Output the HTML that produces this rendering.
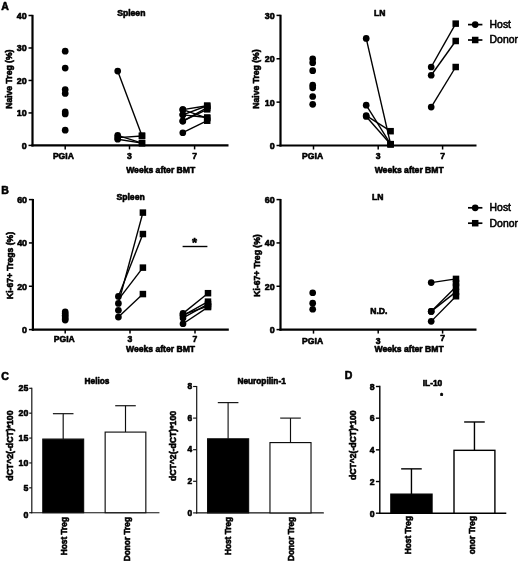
<!DOCTYPE html>
<html><head><meta charset="utf-8"><title>Figure</title>
<style>html,body{margin:0;padding:0;background:#fff;}body{width:520px;height:563px;overflow:hidden;font-family:"Liberation Sans",sans-serif;}svg{display:block;font-family:"Liberation Sans",sans-serif;}text{stroke:#000;stroke-linejoin:round;}.b{font-weight:bold;stroke-width:.6px;}.n{font-weight:normal;stroke-width:.55px;}.m{text-anchor:middle;}.e{text-anchor:end;}</style>
</head><body>
<svg width="520" height="563" viewBox="0 0 520 563" fill="#000" stroke="#000" stroke-width="0">
<defs><filter id="soft" x="0" y="0" width="520" height="563" filterUnits="userSpaceOnUse"><feGaussianBlur stdDeviation="0.35"/></filter></defs>
<rect x="0" y="0" width="520" height="563" fill="#fff" stroke="none"/>
<g filter="url(#soft)">
<g stroke="none">
<text class="b" x="1.20" y="9.60" font-size="10.5">A</text>
<text class="b" x="1.20" y="194.20" font-size="10.5">B</text>
<text class="b" x="1.20" y="380.00" font-size="10.5">C</text>
<text class="b" x="344.70" y="379.30" font-size="10.5">D</text>
</g>
<g stroke="#000">
<line x1="32.50" y1="14.85" x2="32.50" y2="146.50" stroke-width="2.2"/>
<line x1="31.40" y1="145.40" x2="228.50" y2="145.40" stroke-width="2.2"/>
<line x1="28.50" y1="145.40" x2="32.50" y2="145.40" stroke-width="1.5"/>
<line x1="28.50" y1="112.93" x2="32.50" y2="112.93" stroke-width="1.5"/>
<line x1="28.50" y1="80.45" x2="32.50" y2="80.45" stroke-width="1.5"/>
<line x1="28.50" y1="47.98" x2="32.50" y2="47.98" stroke-width="1.5"/>
<line x1="28.50" y1="15.50" x2="32.50" y2="15.50" stroke-width="1.5"/>
<line x1="65.20" y1="145.40" x2="65.20" y2="149.40" stroke-width="1.5"/>
<line x1="129.50" y1="145.40" x2="129.50" y2="149.40" stroke-width="1.5"/>
<line x1="194.60" y1="145.40" x2="194.60" y2="149.40" stroke-width="1.5"/>
</g>
<g stroke="none">
<text class="b e" x="26.60" y="148.80" font-size="8.9">0</text>
<text class="b e" x="26.60" y="116.33" font-size="8.9">10</text>
<text class="b e" x="26.60" y="83.85" font-size="8.9">20</text>
<text class="b e" x="26.60" y="51.38" font-size="8.9">30</text>
<text class="b e" x="26.60" y="18.90" font-size="8.9">40</text>
<text class="b m" x="63.40" y="158.50" font-size="8.6">PGIA</text>
<text class="b m" x="129.50" y="158.50" font-size="8.6">3</text>
<text class="b m" x="194.60" y="158.50" font-size="8.6">7</text>
<text class="b m" x="12.50" y="79.20" font-size="8.6" transform="rotate(-90 12.5 79.2)">Naive Treg (%)</text>
<text class="b m" x="131.30" y="15.70" font-size="8.6">Spleen</text>
<text class="b m" x="160.70" y="172.70" font-size="8.6">Weeks after BMT</text>
</g>
<g stroke="none">
<circle cx="65.20" cy="51.22" r="3.35"/>
<circle cx="65.20" cy="68.11" r="3.35"/>
<circle cx="65.20" cy="89.54" r="3.35"/>
<circle cx="65.20" cy="93.44" r="3.35"/>
<circle cx="65.20" cy="111.95" r="3.35"/>
<circle cx="65.20" cy="113.90" r="3.35"/>
<circle cx="65.20" cy="130.14" r="3.35"/>
</g>
<g stroke="#000">
<line x1="117.70" y1="71.03" x2="142.00" y2="135.66" stroke-width="1.4"/>
<line x1="117.70" y1="135.33" x2="142.00" y2="143.13" stroke-width="1.4"/>
<line x1="117.70" y1="137.61" x2="142.00" y2="135.98" stroke-width="1.4"/>
<line x1="117.70" y1="139.23" x2="142.00" y2="143.13" stroke-width="1.4"/>
</g>
<g stroke="none">
<circle cx="117.70" cy="71.03" r="3.35"/>
<rect x="138.75" y="132.41" width="6.5" height="6.5"/>
<circle cx="117.70" cy="135.33" r="3.35"/>
<rect x="138.75" y="139.88" width="6.5" height="6.5"/>
<circle cx="117.70" cy="137.61" r="3.35"/>
<rect x="138.75" y="132.73" width="6.5" height="6.5"/>
<circle cx="117.70" cy="139.23" r="3.35"/>
<rect x="138.75" y="139.88" width="6.5" height="6.5"/>
</g>
<g stroke="#000">
<line x1="182.80" y1="109.68" x2="207.20" y2="118.12" stroke-width="1.4"/>
<line x1="182.80" y1="109.68" x2="207.20" y2="105.78" stroke-width="1.4"/>
<line x1="182.80" y1="114.87" x2="207.20" y2="105.78" stroke-width="1.4"/>
<line x1="182.80" y1="114.87" x2="207.20" y2="117.47" stroke-width="1.4"/>
<line x1="182.80" y1="121.04" x2="207.20" y2="109.35" stroke-width="1.4"/>
<line x1="182.80" y1="121.04" x2="207.20" y2="107.73" stroke-width="1.4"/>
<line x1="182.80" y1="132.73" x2="207.20" y2="120.72" stroke-width="1.4"/>
</g>
<g stroke="none">
<circle cx="182.80" cy="109.68" r="3.35"/>
<rect x="203.95" y="114.87" width="6.5" height="6.5"/>
<circle cx="182.80" cy="109.68" r="3.35"/>
<rect x="203.95" y="102.53" width="6.5" height="6.5"/>
<circle cx="182.80" cy="114.87" r="3.35"/>
<rect x="203.95" y="102.53" width="6.5" height="6.5"/>
<circle cx="182.80" cy="114.87" r="3.35"/>
<rect x="203.95" y="114.22" width="6.5" height="6.5"/>
<circle cx="182.80" cy="121.04" r="3.35"/>
<rect x="203.95" y="106.10" width="6.5" height="6.5"/>
<circle cx="182.80" cy="121.04" r="3.35"/>
<rect x="203.95" y="104.48" width="6.5" height="6.5"/>
<circle cx="182.80" cy="132.73" r="3.35"/>
<rect x="203.95" y="117.47" width="6.5" height="6.5"/>
</g>
<g stroke="#000">
<line x1="280.50" y1="14.75" x2="280.50" y2="146.60" stroke-width="2.2"/>
<line x1="279.40" y1="145.50" x2="476.50" y2="145.50" stroke-width="2.2"/>
<line x1="276.50" y1="145.50" x2="280.50" y2="145.50" stroke-width="1.5"/>
<line x1="276.50" y1="102.13" x2="280.50" y2="102.13" stroke-width="1.5"/>
<line x1="276.50" y1="58.77" x2="280.50" y2="58.77" stroke-width="1.5"/>
<line x1="276.50" y1="15.40" x2="280.50" y2="15.40" stroke-width="1.5"/>
<line x1="313.50" y1="145.50" x2="313.50" y2="149.50" stroke-width="1.5"/>
<line x1="378.20" y1="145.50" x2="378.20" y2="149.50" stroke-width="1.5"/>
<line x1="442.60" y1="145.50" x2="442.60" y2="149.50" stroke-width="1.5"/>
</g>
<g stroke="none">
<text class="b e" x="274.60" y="148.90" font-size="8.9">0</text>
<text class="b e" x="274.60" y="105.54" font-size="8.9">10</text>
<text class="b e" x="274.60" y="62.17" font-size="8.9">20</text>
<text class="b e" x="274.60" y="18.80" font-size="8.9">30</text>
<text class="b m" x="312.60" y="158.50" font-size="8.6">PGIA</text>
<text class="b m" x="378.20" y="158.50" font-size="8.6">3</text>
<text class="b m" x="442.60" y="158.50" font-size="8.6">7</text>
<text class="b m" x="258.80" y="79.00" font-size="8.6" transform="rotate(-90 258.8 79.0)">Naive Treg (%)</text>
<text class="b m" x="379.80" y="15.70" font-size="8.6">LN</text>
<text class="b m" x="409.20" y="172.90" font-size="8.6">Weeks after BMT</text>
</g>
<g stroke="none">
<circle cx="312.70" cy="58.77" r="3.35"/>
<circle cx="312.70" cy="62.67" r="3.35"/>
<circle cx="312.70" cy="70.69" r="3.35"/>
<circle cx="312.70" cy="85.22" r="3.35"/>
<circle cx="312.70" cy="87.82" r="3.35"/>
<circle cx="312.70" cy="96.50" r="3.35"/>
<circle cx="312.70" cy="104.30" r="3.35"/>
</g>
<g stroke="#000">
<line x1="366.20" y1="38.38" x2="390.60" y2="144.20" stroke-width="1.4"/>
<line x1="366.20" y1="105.17" x2="390.60" y2="144.20" stroke-width="1.4"/>
<line x1="366.20" y1="115.58" x2="390.60" y2="131.19" stroke-width="1.4"/>
<line x1="366.20" y1="116.44" x2="390.60" y2="144.20" stroke-width="1.4"/>
</g>
<g stroke="none">
<circle cx="366.20" cy="38.38" r="3.35"/>
<rect x="387.35" y="140.95" width="6.5" height="6.5"/>
<circle cx="366.20" cy="105.17" r="3.35"/>
<rect x="387.35" y="140.95" width="6.5" height="6.5"/>
<circle cx="366.20" cy="115.58" r="3.35"/>
<rect x="387.35" y="127.94" width="6.5" height="6.5"/>
<circle cx="366.20" cy="116.44" r="3.35"/>
<rect x="387.35" y="140.95" width="6.5" height="6.5"/>
</g>
<g stroke="#000">
<line x1="431.20" y1="67.01" x2="455.70" y2="23.64" stroke-width="1.4"/>
<line x1="431.20" y1="75.25" x2="455.70" y2="40.99" stroke-width="1.4"/>
<line x1="431.20" y1="107.12" x2="455.70" y2="67.01" stroke-width="1.4"/>
</g>
<g stroke="none">
<circle cx="431.20" cy="67.01" r="3.35"/>
<rect x="452.45" y="20.39" width="6.5" height="6.5"/>
<circle cx="431.20" cy="75.25" r="3.35"/>
<rect x="452.45" y="37.74" width="6.5" height="6.5"/>
<circle cx="431.20" cy="107.12" r="3.35"/>
<rect x="452.45" y="63.76" width="6.5" height="6.5"/>
</g>
<g stroke="#000">
<line x1="468.00" y1="24.60" x2="482.40" y2="24.60" stroke-width="1.7"/>
<line x1="468.00" y1="40.00" x2="482.40" y2="40.00" stroke-width="1.7"/>
</g><g stroke="none">
<circle cx="475.20" cy="24.60" r="3.35"/>
<rect x="471.95" y="36.75" width="6.5" height="6.5"/>
<text class="n" x="489.60" y="28.04" font-size="10.4">Host</text>
<text class="n" x="489.60" y="43.44" font-size="10.4">Donor</text>
</g>
<g stroke="#000">
<line x1="468.00" y1="207.80" x2="482.40" y2="207.80" stroke-width="1.7"/>
<line x1="468.00" y1="223.20" x2="482.40" y2="223.20" stroke-width="1.7"/>
</g><g stroke="none">
<circle cx="475.20" cy="207.80" r="3.35"/>
<rect x="471.95" y="219.95" width="6.5" height="6.5"/>
<text class="n" x="489.60" y="211.24" font-size="10.4">Host</text>
<text class="n" x="489.60" y="226.64" font-size="10.4">Donor</text>
</g>
<g stroke="#000">
<line x1="32.90" y1="198.95" x2="32.90" y2="330.70" stroke-width="2.2"/>
<line x1="31.80" y1="329.60" x2="228.80" y2="329.60" stroke-width="2.2"/>
<line x1="28.90" y1="329.60" x2="32.90" y2="329.60" stroke-width="1.5"/>
<line x1="28.90" y1="286.27" x2="32.90" y2="286.27" stroke-width="1.5"/>
<line x1="28.90" y1="242.93" x2="32.90" y2="242.93" stroke-width="1.5"/>
<line x1="28.90" y1="199.60" x2="32.90" y2="199.60" stroke-width="1.5"/>
<line x1="65.20" y1="329.60" x2="65.20" y2="333.60" stroke-width="1.5"/>
<line x1="130.00" y1="329.60" x2="130.00" y2="333.60" stroke-width="1.5"/>
<line x1="195.00" y1="329.60" x2="195.00" y2="333.60" stroke-width="1.5"/>
</g>
<g stroke="none">
<text class="b e" x="27.00" y="333.00" font-size="8.9">0</text>
<text class="b e" x="27.00" y="289.67" font-size="8.9">20</text>
<text class="b e" x="27.00" y="246.34" font-size="8.9">40</text>
<text class="b e" x="27.00" y="203.00" font-size="8.9">60</text>
<text class="b m" x="64.30" y="341.90" font-size="8.6">PGIA</text>
<text class="b m" x="130.00" y="341.90" font-size="8.6">3</text>
<text class="b m" x="195.00" y="341.90" font-size="8.6">7</text>
<text class="b m" x="12.60" y="265.50" font-size="8.6" transform="rotate(-90 12.6 265.5)">Ki-67+ Tregs (%)</text>
<text class="b m" x="130.60" y="199.80" font-size="8.6">Spleen</text>
<text class="b m" x="160.50" y="351.70" font-size="8.6">Weeks after BMT</text>
</g>
<g stroke="none">
<circle cx="65.20" cy="311.83" r="3.35"/>
<circle cx="65.20" cy="313.57" r="3.35"/>
<circle cx="65.20" cy="315.30" r="3.35"/>
<circle cx="65.20" cy="317.03" r="3.35"/>
<circle cx="65.20" cy="318.77" r="3.35"/>
<circle cx="65.20" cy="320.07" r="3.35"/>
</g>
<g stroke="#000">
<line x1="118.40" y1="299.70" x2="142.90" y2="267.63" stroke-width="1.4"/>
</g>
<g stroke="#000">
<line x1="118.40" y1="303.38" x2="142.90" y2="212.60" stroke-width="1.4"/>
<line x1="118.40" y1="296.45" x2="142.90" y2="234.05" stroke-width="1.4"/>
<line x1="118.40" y1="317.03" x2="142.90" y2="294.07" stroke-width="1.4"/>
</g>
<g stroke="none">
<circle cx="118.40" cy="303.38" r="3.35"/>
<rect x="139.65" y="209.35" width="6.5" height="6.5"/>
<circle cx="118.40" cy="296.45" r="3.35"/>
<rect x="139.65" y="230.80" width="6.5" height="6.5"/>
<circle cx="118.40" cy="317.03" r="3.35"/>
<rect x="139.65" y="290.82" width="6.5" height="6.5"/>
</g>
<g stroke="none">
<circle cx="118.40" cy="310.32" r="3.35"/>
</g>
<g stroke="none">
<rect x="139.65" y="264.38" width="6.5" height="6.5"/>
</g>
<g stroke="#000">
<line x1="183.00" y1="313.35" x2="208.00" y2="293.20" stroke-width="1.4"/>
<line x1="183.00" y1="315.52" x2="208.00" y2="301.65" stroke-width="1.4"/>
<line x1="183.00" y1="317.90" x2="208.00" y2="304.03" stroke-width="1.4"/>
<line x1="183.00" y1="323.75" x2="208.00" y2="307.07" stroke-width="1.4"/>
<line x1="183.00" y1="314.65" x2="208.00" y2="306.20" stroke-width="1.4"/>
</g>
<g stroke="none">
<circle cx="183.00" cy="313.35" r="3.35"/>
<rect x="204.75" y="289.95" width="6.5" height="6.5"/>
<circle cx="183.00" cy="315.52" r="3.35"/>
<rect x="204.75" y="298.40" width="6.5" height="6.5"/>
<circle cx="183.00" cy="317.90" r="3.35"/>
<rect x="204.75" y="300.78" width="6.5" height="6.5"/>
<circle cx="183.00" cy="323.75" r="3.35"/>
<rect x="204.75" y="303.82" width="6.5" height="6.5"/>
<circle cx="183.00" cy="314.65" r="3.35"/>
<rect x="204.75" y="302.95" width="6.5" height="6.5"/>
</g>
<g stroke="#000">
<line x1="182.60" y1="246.50" x2="207.40" y2="246.50" stroke-width="1.4"/>
</g>
<g stroke="none">
<text class="b m" x="194.60" y="246.60" font-size="13">*</text>
</g>
<g stroke="#000">
<line x1="280.50" y1="198.95" x2="280.50" y2="330.70" stroke-width="2.2"/>
<line x1="279.40" y1="329.60" x2="476.50" y2="329.60" stroke-width="2.2"/>
<line x1="276.50" y1="329.60" x2="280.50" y2="329.60" stroke-width="1.5"/>
<line x1="276.50" y1="286.27" x2="280.50" y2="286.27" stroke-width="1.5"/>
<line x1="276.50" y1="242.93" x2="280.50" y2="242.93" stroke-width="1.5"/>
<line x1="276.50" y1="199.60" x2="280.50" y2="199.60" stroke-width="1.5"/>
<line x1="313.50" y1="329.60" x2="313.50" y2="333.60" stroke-width="1.5"/>
<line x1="378.20" y1="329.60" x2="378.20" y2="333.60" stroke-width="1.5"/>
<line x1="442.60" y1="329.60" x2="442.60" y2="333.60" stroke-width="1.5"/>
</g>
<g stroke="none">
<text class="b e" x="274.60" y="333.00" font-size="8.9">0</text>
<text class="b e" x="274.60" y="289.67" font-size="8.9">20</text>
<text class="b e" x="274.60" y="246.34" font-size="8.9">40</text>
<text class="b e" x="274.60" y="203.00" font-size="8.9">60</text>
<text class="b m" x="312.60" y="343.50" font-size="8.6">PGIA</text>
<text class="b m" x="378.20" y="343.50" font-size="8.6">3</text>
<text class="b m" x="442.60" y="341.40" font-size="8.6">7</text>
<text class="b m" x="259.70" y="265.50" font-size="8.6" transform="rotate(-90 259.7 265.5)">Ki-67+ Treg (%)</text>
<text class="b m" x="377.70" y="199.80" font-size="8.6">LN</text>
<text class="b m" x="409.10" y="352.30" font-size="8.6">Weeks after BMT</text>
</g>
<g stroke="none">
<circle cx="312.70" cy="292.77" r="3.35"/>
<circle cx="312.70" cy="303.17" r="3.35"/>
<circle cx="312.70" cy="309.23" r="3.35"/>
</g>
<g stroke="#000">
<line x1="431.20" y1="282.58" x2="456.00" y2="278.90" stroke-width="1.4"/>
<line x1="431.20" y1="311.40" x2="456.00" y2="286.70" stroke-width="1.4"/>
<line x1="431.20" y1="311.40" x2="456.00" y2="291.90" stroke-width="1.4"/>
<line x1="431.20" y1="321.37" x2="456.00" y2="296.23" stroke-width="1.4"/>
</g>
<g stroke="none">
<circle cx="431.20" cy="282.58" r="3.35"/>
<rect x="452.75" y="275.65" width="6.5" height="6.5"/>
<circle cx="431.20" cy="311.40" r="3.35"/>
<rect x="452.75" y="283.45" width="6.5" height="6.5"/>
<circle cx="431.20" cy="311.40" r="3.35"/>
<rect x="452.75" y="288.65" width="6.5" height="6.5"/>
<circle cx="431.20" cy="321.37" r="3.35"/>
<rect x="452.75" y="292.98" width="6.5" height="6.5"/>
</g>
<g stroke="none">
<rect x="452.75" y="279.77" width="6.5" height="6.5"/>
</g>
<g stroke="none">
<text class="b m" x="378.80" y="314.30" font-size="8.6">N.D.</text>
</g>
<g stroke="#111">
<line x1="31.80" y1="387.73" x2="31.80" y2="513.28" stroke-width="1.15"/>
<line x1="31.23" y1="512.70" x2="159.40" y2="512.70" stroke-width="1.15"/>
<line x1="29.20" y1="512.70" x2="31.80" y2="512.70" stroke-width="1.15"/>
<line x1="29.20" y1="487.82" x2="31.80" y2="487.82" stroke-width="1.15"/>
<line x1="29.20" y1="462.94" x2="31.80" y2="462.94" stroke-width="1.15"/>
<line x1="29.20" y1="438.06" x2="31.80" y2="438.06" stroke-width="1.15"/>
<line x1="29.20" y1="413.18" x2="31.80" y2="413.18" stroke-width="1.15"/>
<line x1="29.20" y1="388.30" x2="31.80" y2="388.30" stroke-width="1.15"/>
<line x1="63.20" y1="413.68" x2="63.20" y2="439.06" stroke-width="1.15"/>
<line x1="52.90" y1="413.68" x2="73.50" y2="413.68" stroke-width="1.15"/>
<rect x="42.78" y="439.06" width="40.85" height="73.64" fill="#000" stroke-width="1.15"/>
<line x1="125.50" y1="405.72" x2="125.50" y2="432.09" stroke-width="1.15"/>
<line x1="115.20" y1="405.72" x2="135.80" y2="405.72" stroke-width="1.15"/>
<rect x="105.17" y="432.09" width="40.65" height="80.61" fill="#fff" stroke-width="1.15"/>
</g>
<g stroke="none">
<text class="b e" x="28.30" y="517.67" font-size="8.8">0</text>
<text class="b e" x="28.30" y="490.99" font-size="8.8">5</text>
<text class="b e" x="28.30" y="466.11" font-size="8.8">10</text>
<text class="b e" x="28.30" y="441.23" font-size="8.8">15</text>
<text class="b e" x="28.30" y="416.35" font-size="8.8">20</text>
<text class="b e" x="28.30" y="391.47" font-size="8.8">25</text>
<text class="b m" x="13.00" y="445.60" font-size="8.7" transform="rotate(-90 13.0 445.6)">dCT^2(-dCT)*100</text>
<text class="b m" x="97.00" y="384.39" font-size="8.3">Helios</text>
<text class="b e" x="67.10" y="517.00" font-size="8.3" transform="rotate(-90 67.1 517.0)">Host Treg</text>
<text class="b e" x="130.20" y="517.00" font-size="8.3" transform="rotate(-90 130.2 517.0)">Donor Treg</text>
</g>
<g stroke="#111">
<line x1="196.70" y1="385.93" x2="196.70" y2="513.48" stroke-width="1.15"/>
<line x1="196.12" y1="512.90" x2="323.80" y2="512.90" stroke-width="1.15"/>
<line x1="193.10" y1="512.90" x2="196.70" y2="512.90" stroke-width="1.15"/>
<line x1="193.10" y1="481.30" x2="196.70" y2="481.30" stroke-width="1.15"/>
<line x1="193.10" y1="449.70" x2="196.70" y2="449.70" stroke-width="1.15"/>
<line x1="193.10" y1="418.10" x2="196.70" y2="418.10" stroke-width="1.15"/>
<line x1="193.10" y1="386.50" x2="196.70" y2="386.50" stroke-width="1.15"/>
<line x1="228.10" y1="402.62" x2="228.10" y2="438.80" stroke-width="1.15"/>
<line x1="217.80" y1="402.62" x2="238.40" y2="402.62" stroke-width="1.15"/>
<rect x="207.57" y="438.80" width="41.05" height="74.10" fill="#000" stroke-width="1.15"/>
<line x1="290.50" y1="418.10" x2="290.50" y2="442.59" stroke-width="1.15"/>
<line x1="280.20" y1="418.10" x2="300.80" y2="418.10" stroke-width="1.15"/>
<rect x="269.97" y="442.59" width="41.05" height="70.31" fill="#fff" stroke-width="1.15"/>
</g>
<g stroke="none">
<text class="b e" x="192.10" y="515.52" font-size="8.4">0</text>
<text class="b e" x="192.10" y="483.92" font-size="8.4">2</text>
<text class="b e" x="192.10" y="452.32" font-size="8.4">4</text>
<text class="b e" x="192.10" y="420.72" font-size="8.4">6</text>
<text class="b e" x="192.10" y="389.12" font-size="8.4">8</text>
<text class="b m" x="176.20" y="446.00" font-size="8.7" transform="rotate(-90 176.2 446.0)">dCT^2(-dCT)*100</text>
<text class="b m" x="261.60" y="384.39" font-size="8.3">Neuropilin-1</text>
<text class="b e" x="230.60" y="516.80" font-size="8.3" transform="rotate(-90 230.6 516.8)">Host Treg</text>
<text class="b e" x="293.80" y="516.80" font-size="8.3" transform="rotate(-90 293.8 516.8)">Donor Treg</text>
</g>
<g stroke="#000">
<line x1="379.80" y1="385.80" x2="379.80" y2="513.90" stroke-width="1.4"/>
<line x1="379.10" y1="513.20" x2="506.30" y2="513.20" stroke-width="1.4"/>
<line x1="375.90" y1="513.20" x2="379.80" y2="513.20" stroke-width="1.4"/>
<line x1="375.90" y1="481.53" x2="379.80" y2="481.53" stroke-width="1.4"/>
<line x1="375.90" y1="449.85" x2="379.80" y2="449.85" stroke-width="1.4"/>
<line x1="375.90" y1="418.18" x2="379.80" y2="418.18" stroke-width="1.4"/>
<line x1="375.90" y1="386.50" x2="379.80" y2="386.50" stroke-width="1.4"/>
<line x1="411.45" y1="468.86" x2="411.45" y2="494.20" stroke-width="1.4"/>
<line x1="401.15" y1="468.86" x2="421.75" y2="468.86" stroke-width="1.4"/>
<rect x="390.90" y="494.20" width="41.10" height="19.00" fill="#000" stroke-width="1.4"/>
<line x1="474.45" y1="421.98" x2="474.45" y2="450.33" stroke-width="1.4"/>
<line x1="464.15" y1="421.98" x2="484.75" y2="421.98" stroke-width="1.4"/>
<rect x="454.00" y="450.33" width="40.90" height="62.87" fill="#fff" stroke-width="1.4"/>
</g>
<g stroke="none">
<text class="b e" x="374.50" y="517.13" font-size="8.7">0</text>
<text class="b e" x="374.50" y="484.66" font-size="8.7">2</text>
<text class="b e" x="374.50" y="452.98" font-size="8.7">4</text>
<text class="b e" x="374.50" y="421.31" font-size="8.7">6</text>
<text class="b e" x="374.50" y="389.63" font-size="8.7">8</text>
<text class="b m" x="355.80" y="445.20" font-size="8.6" transform="rotate(-90 355.8 445.2)">dCT^2(-dCT)*100</text>
<text class="b m" x="432.50" y="385.62" font-size="8.4">IL-10</text>
<text class="b e" x="410.80" y="516.00" font-size="8.3" transform="rotate(-90 410.8 516.0)">Host Treg</text>
<text class="b e" x="475.10" y="516.00" font-size="8.3" transform="rotate(-90 475.1 516.0)">onor Treg</text>
</g>
<g stroke="none">
<text class="b m" x="441.50" y="397.60" font-size="7">*</text>
</g>
</g></svg></body></html>
